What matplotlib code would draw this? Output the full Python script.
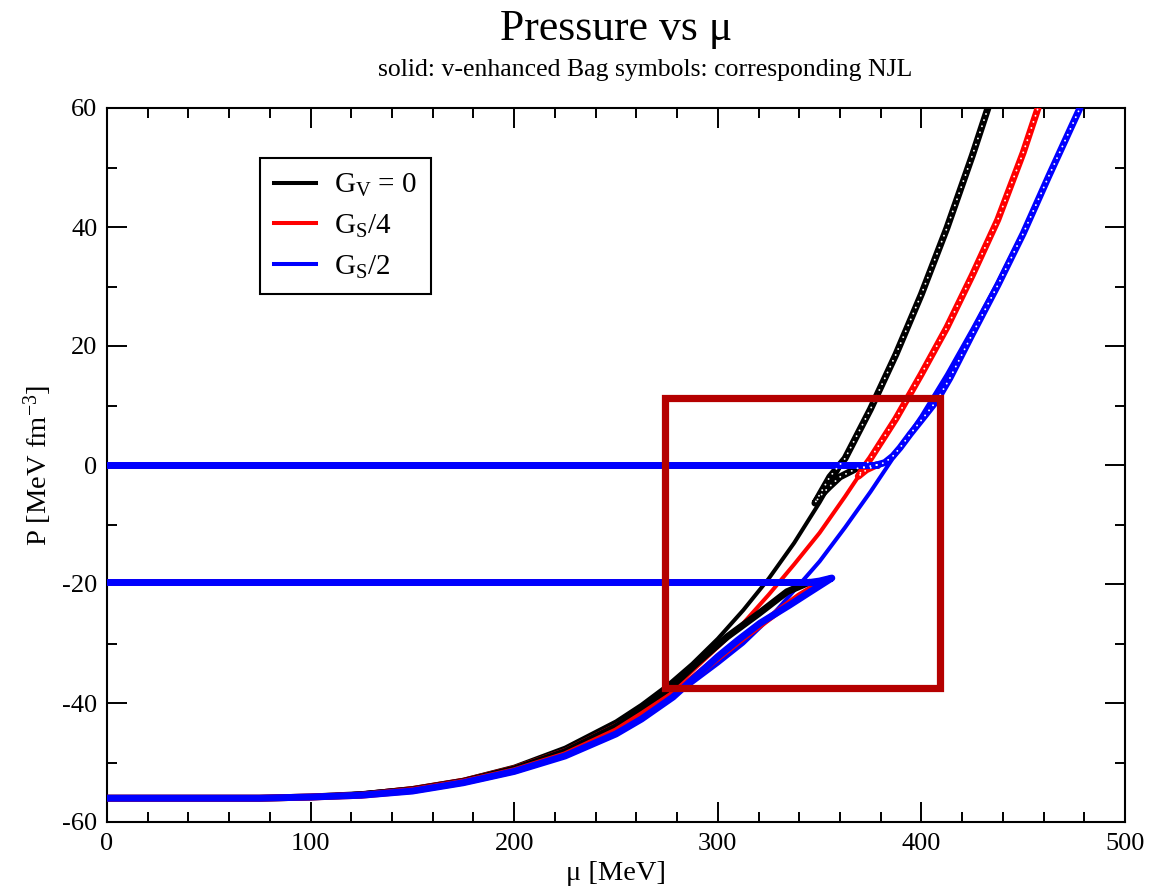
import matplotlib
matplotlib.use("Agg")
import matplotlib.pyplot as plt
from matplotlib.lines import Line2D
from matplotlib.patches import Rectangle
from matplotlib.ticker import MultipleLocator

plt.rcParams['font.family'] = ['Liberation Serif', 'DejaVu Serif']
plt.rcParams['mathtext.fontset'] = 'custom'
plt.rcParams['mathtext.rm'] = 'Liberation Serif'
plt.rcParams['mathtext.it'] = 'Liberation Serif:italic'
plt.rcParams['axes.unicode_minus'] = False

# ---------------- data ----------------
series_labels = [r'G$_\mathrm{V}$ = 0', r'G$_\mathrm{S}$/4', r'G$_\mathrm{S}$/2']
series_colors = ['#000000', '#ff0000', '#0000ff']

# solid: v-enhanced Bag model
bag_black_mu = [0, 25, 50, 75, 100, 125, 150, 175, 200, 225, 250, 262.5, 275, 287.5,
                300, 312.5, 325, 337.5, 350, 362.5, 375, 387.5, 400, 412.5, 425, 432.7]
bag_black_P = [-56, -56, -56, -55.9, -55.7, -55.2, -54.3, -52.9, -50.7, -47.5, -43.1, -40.3,
               -37.1, -33.4, -29.2, -24.4, -19.1, -13.1, -6.3, 1.1, 9.4, 18.6, 28.7, 39.8,
               52.0, 60]

bag_red_mu = [0, 25, 50, 75, 100, 125, 150, 175, 200, 225, 250, 262.5, 275, 287.5, 300,
              312.5, 325, 337.5, 350, 362.5, 375, 387.5, 400, 412.5, 425, 437.5, 450, 457.3]
bag_red_P = [-56, -56, -56, -55.9, -55.7, -55.2, -54.3, -52.9, -50.8, -47.9, -43.7, -41.2,
             -38.5, -34.6, -30.6, -26.6, -21.8, -16.7, -11.4, -5.3, 1.1, 7.8, 15.3, 23.1,
             31.9, 41.2, 52.5, 60]

bag_blue_mu = [0, 25, 50, 75, 100, 125, 150, 175, 200, 225, 250, 262.5, 275, 287.5, 300,
               312.5, 325, 337.5, 350, 362.5, 375, 387.5, 400, 412.5, 425, 437.5, 450,
               462.5, 477.9]
bag_blue_P = [-56, -56, -56, -55.9, -55.7, -55.2, -54.4, -53.0, -51.0, -48.0, -44.2, -42.0,
              -39.5, -36.6, -33.4, -30.0, -25.9, -21.1, -16.2, -10.5, -4.5, 1.9, 8.2, 15.2,
              22.8, 30.7, 39.2, 48.7, 60]

# symbols: corresponding NJL, vacuum normalised to P = 0
njlA_vac_mu = [0, 378]
njlA_vac_P = [0, 0]
njlA_black_mu = [378, 368, 360, 355, 350, 347.7, 350, 355, 362.5, 375, 387.5, 400, 412.5,
                 425, 432.7]
njlA_black_P = [0, -0.6, -2.0, -3.6, -5.3, -6.4, -5.0, -2.0, 1.1, 9.4, 18.6, 28.7, 39.8,
                52.0, 60]
njlA_red_mu = [378, 373, 369, 371, 375, 387.5, 400, 412.5, 425, 437.5, 450, 457.3]
njlA_red_P = [0, -0.8, -1.9, -0.8, 1.1, 7.8, 15.3, 23.1, 31.9, 41.2, 52.5, 60]
njlA_blue_mu = [378, 382, 386, 389.5, 394.5, 400.8, 407.7, 414, 425, 437.5, 450, 462.5, 477.9]
njlA_blue_P = [0, 0.4, 1.5, 2.9, 5.2, 7.9, 10.9, 14.6, 22.0, 30.2, 38.9, 48.5, 60]

# symbols: corresponding NJL, vacuum normalised to P = -19.6
njlB_vac_mu = [0, 349]
njlB_vac_P = [-19.6, -19.6]
njlB_black_mu = [345, 334, 320, 304.5, 290, 278, 262.5, 250, 225, 200, 175, 150, 125,
                 100, 75, 0]
njlB_black_P = [-19.7, -21.3, -25.0, -28.9, -33.2, -37.0, -41.2, -44.0, -48.2, -51.1,
                -53.2, -54.6, -55.4, -55.8, -56, -56]
njlB_red_mu = [352, 340, 325, 312.5, 300, 290, 278, 262.5, 250, 225, 200, 175, 150, 125,
               100, 75, 0]
njlB_red_P = [-19.5, -22.0, -25.8, -29.0, -32.4, -35.2, -38.5, -42.0, -44.7, -48.7, -51.4,
              -53.3, -54.7, -55.5, -55.8, -56, -56]
njlB_blue_mu = [344, 350, 356, 345, 335, 320.7, 310, 300, 290, 278, 262.5, 250, 225, 200,
                175, 150, 125, 100, 75, 0]
njlB_blue_P = [-19.8, -19.5, -19.0, -21.4, -23.6, -26.6, -29.4, -32.2, -35.3, -39.0, -42.7,
               -45.2, -48.9, -51.5, -53.4, -54.8, -55.5, -55.8, -56, -56]

# highlighted region (red box)
box_mu = [274, 409]
box_P = [-37.5, 11.3]

# ---------------- figure ----------------
fig = plt.figure(figsize=(11.52, 8.89), dpi=100)
ax = fig.add_axes([107/1152, 1-822/889, 1018/1152, 714/889])

bag_lw = 2.9
sym_lw = 5.0

def symbols(ax, mu, P, color, dots=True, z=3):
    ax.plot(mu, P, color=color, lw=sym_lw, solid_capstyle='round',
            solid_joinstyle='round', zorder=z)
    if dots:
        ax.plot(mu, P, color='white', lw=1.4, linestyle=(0, (0.01, 3.3)),
                dash_capstyle='round', zorder=z + 0.1)

bag = [(bag_black_mu, bag_black_P), (bag_red_mu, bag_red_P), (bag_blue_mu, bag_blue_P)]
for (mu, P), c in zip(bag, series_colors):
    ax.plot(mu, P, color=c, lw=bag_lw, zorder=2)

njlB = [(njlB_black_mu, njlB_black_P), (njlB_red_mu, njlB_red_P), (njlB_blue_mu, njlB_blue_P)]
for (mu, P), c in zip(njlB, series_colors):
    symbols(ax, njlB_vac_mu, njlB_vac_P, c, dots=False, z=3)
    symbols(ax, mu, P, c, dots=False, z=3)

njlA = [(njlA_black_mu, njlA_black_P), (njlA_red_mu, njlA_red_P), (njlA_blue_mu, njlA_blue_P)]
for (mu, P), c in zip(njlA, series_colors):
    symbols(ax, njlA_vac_mu, njlA_vac_P, c, dots=False, z=4)
    symbols(ax, mu, P, c, dots=True, z=4)

ax.add_patch(Rectangle((box_mu[0], box_P[0]), box_mu[1]-box_mu[0], box_P[1]-box_P[0],
                       fill=False, edgecolor='#b50000', lw=5.2, zorder=6))

ax.set_xlim(0, 500)
ax.set_ylim(-60, 60)
ax.xaxis.set_major_locator(MultipleLocator(100))
ax.xaxis.set_minor_locator(MultipleLocator(20))
ax.yaxis.set_major_locator(MultipleLocator(20))
ax.yaxis.set_minor_locator(MultipleLocator(10))
ax.tick_params(which='both', direction='in', top=True, right=True, width=1.4,
               labelsize=19)
ax.tick_params(which='major', length=14.5)
ax.tick_params(which='minor', length=7.2)
ax.tick_params(axis='x', pad=8)
ax.tick_params(axis='y', pad=7)
for s in ax.spines.values():
    s.set_linewidth(1.5)

ax.set_xlabel(r'μ [MeV]', fontsize=20.5)
ax.xaxis.set_label_coords(0.5, -0.054)
ax.set_ylabel(r'P [MeV fm$^{-3}$]', fontsize=20.5, va='center')
ax.yaxis.set_label_coords(-0.068, 0.5)

fig.text(616/1152, 1-40/889, 'Pressure vs μ', fontsize=31.5, ha='center', va='baseline')
fig.text(645/1152, 1-76/889, 'solid: v-enhanced Bag symbols: corresponding NJL',
         fontsize=18.5, ha='center', va='baseline')

handles = [Line2D([], [], color=c, lw=bag_lw) for c in series_colors]
leg = ax.legend(handles, series_labels, loc='upper left',
                bbox_to_anchor=(260/1152, 1-158/889), bbox_transform=fig.transFigure,
                borderaxespad=0, fontsize=21, fancybox=False, framealpha=1,
                edgecolor='black', handlelength=1.45, handletextpad=0.62,
                borderpad=0.47, labelspacing=0.47)
leg.get_frame().set_linewidth(1.5)

fig.savefig('out.png', dpi=100)
